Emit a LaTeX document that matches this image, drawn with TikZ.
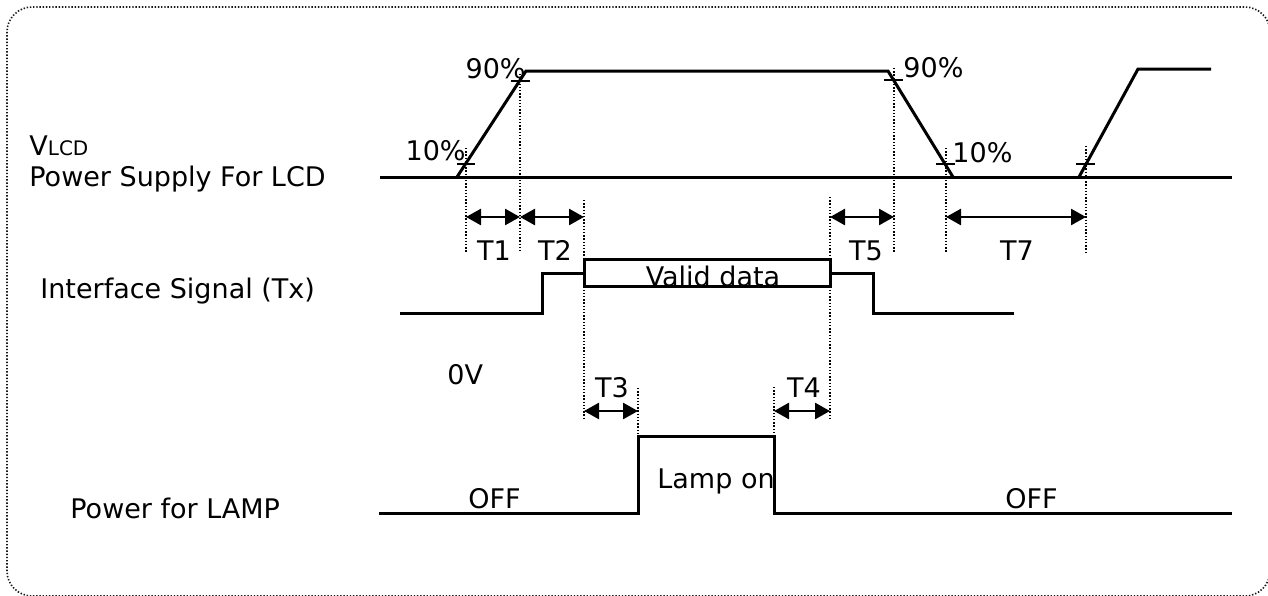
\documentclass[tikz,border=0pt]{standalone}
\usepackage{fontspec}
\setmainfont{DejaVu Sans}
\usetikzlibrary{arrows.meta}
\begin{document}
\begin{tikzpicture}[x=0.5pt,y=-0.5pt,
  wave/.style={line width=1.5pt, line join=miter},
  guide/.style={line width=0.8pt, dash pattern=on 0.7pt off 0.9pt},
  frame/.style={line width=0.8pt, dash pattern=on 0.7pt off 0.9pt, rounded corners=12.5pt, black!90},
  tickmark/.style={line width=1.2pt},
  span/.style={line width=1.3pt, {Triangle[length=7.5pt,width=8pt]}-{Triangle[length=7.5pt,width=8pt]}},
  lbl/.style={inner sep=0pt, font=\fontsize{13.5}{16}\selectfont},
]
\useasboundingbox (0,0) rectangle (1268,595);
\draw[frame] (7,7) rectangle (1270,596);

% ---- VLCD ----
\draw[wave] (380,177) -- (1232,177);
\coordinate (r1a) at (457,177); \coordinate (r1b) at (526,71);
\coordinate (r2a) at (888,71);  \coordinate (r2b) at (953,177);
\coordinate (r3a) at (1079,177); \coordinate (r3b) at (1138,69);
\draw[wave] (r1a) -- (r1b) -- (r2a) -- (r2b);
\draw[wave] (r3a) -- (r3b) -- (1211,69);

% ticks
\draw[tickmark] (457,164) -- (475,164);
\draw[tickmark] (511,81) -- (530,81);
\draw[tickmark] (884,80) -- (903,80);
\draw[tickmark] (936,164) -- (955,164);
\draw[tickmark] (1076,164) -- (1095,164);

% guide lines
\coordinate (g1t) at (466,148); \coordinate (g1b) at (466,253);
\coordinate (g2t) at (520,74);  \coordinate (g2b) at (520,253);
\coordinate (g3t) at (584,200); \coordinate (g3b) at (584,418);
\coordinate (g4t) at (830,197); \coordinate (g4b) at (830,418);
\coordinate (g5t) at (894,68);  \coordinate (g5b) at (894,253);
\coordinate (g6t) at (946,148); \coordinate (g6b) at (946,252);
\coordinate (g7t) at (1086,146); \coordinate (g7b) at (1086,252);
\coordinate (g8t) at (638,388); \coordinate (g8b) at (638,436);
\coordinate (g9t) at (774,387); \coordinate (g9b) at (774,436);
\foreach \g in {g1,g2,g3,g4,g5,g6,g7,g8,g9} \draw[guide] (\g t) -- (\g b);

% span arrows
\coordinate (a1) at (466,217); \coordinate (a2) at (520,217);
\coordinate (a3) at (584,217); \coordinate (a5) at (830,217);
\coordinate (a6) at (894,217); \coordinate (a7) at (946,217);
\coordinate (a8) at (1086,217);
\coordinate (b1) at (584,411); \coordinate (b2) at (638,411);
\coordinate (b3) at (774,411); \coordinate (b4) at (830,411);
\draw[span] (a1) -- (a2);
\draw[span] (a2) -- (a3);
\draw[span] (a5) -- (a6);
\draw[span] (a7) -- (a8);
\draw[span] (b1) -- (b2);
\draw[span] (b3) -- (b4);

% ---- Interface signal ----
\draw[wave] (400,313) -- (542,313) -- (542,273) -- (584,273);
\draw[wave] (584,259) rectangle (830,286);
\draw[wave] (830,273) -- (873,273) -- (873,313) -- (1014,313);

% ---- Lamp ----
\draw[wave] (379,513) -- (638,513) -- (638,436) -- (774,436) -- (774,513) -- (1232,513);

% ---- texts ----
\node[lbl, anchor=base east] (p90a) at (526,78) {90\%};
\node[lbl, anchor=base east] (p10a) at (466,160) {10\%};
\node[lbl, anchor=base west] (p90b) at (903,77) {90\%};
\node[lbl, anchor=base west] (p10b) at (952,162) {10\%};
\node[lbl, anchor=base] (t1) at (494,260) {T1};
\node[lbl, anchor=base] (t2) at (555,260) {T2};
\node[lbl, anchor=base] (t5) at (866,260) {T5};
\node[lbl, anchor=base] (t7) at (1017,260) {T7};
\node[lbl, anchor=base] (t3) at (612,397) {T3};
\node[lbl, anchor=base] (t4) at (804,397) {T4};
\node[lbl, anchor=base] (valid) at (713,286) {Valid data};
\node[lbl, anchor=base west] (lampon) at (657,488) {Lamp on};
\node[lbl, anchor=base west] (off1) at (468,508) {OFF};
\node[lbl, anchor=base west] (off2) at (1005,508) {OFF};
\node[lbl, anchor=base west] (vlcd) at (29,155) {V{\fontsize{10}{12}\selectfont LCD}};
\node[lbl, anchor=base west] (psu) at (29,186) {Power Supply For LCD};
\node[lbl, anchor=base west] (ifs) at (40,298) {Interface Signal (Tx)};
\node[lbl, anchor=base west] (zv) at (447,384) {0V};
\node[lbl, anchor=base west] (pl) at (70,518) {Power for LAMP};
\end{tikzpicture}
\end{document}
